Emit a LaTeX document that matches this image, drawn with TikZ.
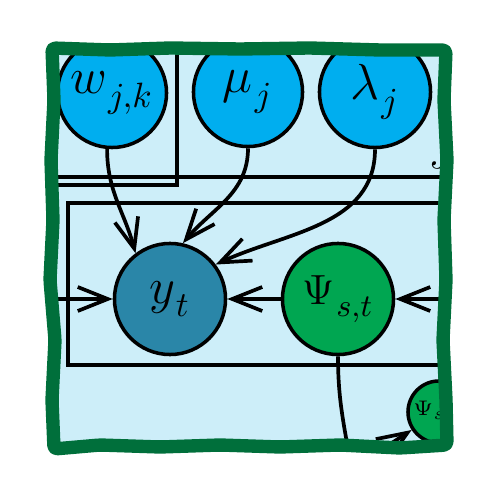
\documentclass[tikz,border=0pt]{standalone}
\usepackage{amsmath}
\usetikzlibrary{arrows.meta}
\definecolor{paneblue}{HTML}{CDEEF9}
\definecolor{hypcyan}{HTML}{00AEEF}
\definecolor{obsteal}{HTML}{2A86A8}
\definecolor{latgreen}{HTML}{00A651}
\definecolor{framegreen}{HTML}{006F3B}
% lowered subscript, as the labels set it
\newcommand{\lsub}[1]{_{\kern.6pt\lower1.6pt\hbox{$\scriptstyle #1$}}}
% hand-drawn outline of the pane, in pixel-like units
\newcommand{\framepath}{(52,452) -- (110,450) -- (170,452) -- (240,451) -- (310,452) -- (380,450) -- (446,450)
  -- (444,400) -- (447,340) -- (444,280) -- (446,220) -- (443,160) -- (446,100) -- (447,55)
  -- (400,52) -- (340,55) -- (280,53) -- (220,55) -- (160,53) -- (100,55) -- (54,51)
  -- (52,100) -- (55,160) -- (50,220) -- (53,280) -- (51,340) -- (54,400) -- cycle}

\begin{document}
\begin{tikzpicture}[x=0.01cm, y=0.01cm, >={Straight Barb[length=3mm, width=2.4mm]},
  var/.style={circle, draw=black, line width=1pt, inner sep=0pt, minimum size=10.9mm,
              font=\fontsize{14}{16}\selectfont},
  hyp/.style={var, fill=hypcyan},
  obs/.style={var, fill=obsteal},
  lat/.style={var, fill=latgreen},
  plate/.style={draw=black, line width=1pt},
  e/.style={->, draw=black, line width=1.05pt}]
\useasboundingbox (0,0) rectangle (500,500);
\fill[paneblue, rounded corners=1pt] \framepath;
\begin{scope}
\clip[rounded corners=1pt] \framepath;
% Plates.
\draw[plate] (30,323) -- (470,323);
\draw[plate] (30,315) -- (177,315) -- (177,470);
\draw[plate] (470,297) -- (68,297) -- (68,135) -- (470,135);
\node[anchor=base west, inner sep=0pt, font=\fontsize{12}{14}\selectfont] (jlab) at (428,331) {$J$};
% Hyperparameters.
\node[hyp] (w) at (112,407) {$w\lsub{j,k}$};
\node[hyp] (mu) at (248,408) {$\mu\lsub{j}$};
\node[hyp, minimum size=11.1mm] (lambda) at (375,408) {$\lambda\lsub{j}$};
% Observation and latent states.
\node[obs, minimum size=11.1mm] (yt) at (170,201) {$y\lsub{t}$};
\node[lat, minimum size=11.1mm, font=\fontsize{12.5}{14}\selectfont] (psi) at (338,201) {$\Psi\lsub{s,t}$};
\node[lat, minimum size=6.2mm, font=\fontsize{6.5}{7}\selectfont] (psis) at (439,88) {$\Psi_{s,t}$};
\coordinate (lin) at (40,201);
\coordinate (rin) at (470,201);
\coordinate (psiout) at (350,40);
\coordinate (sin) at (372,44);
% Dependencies.
\draw[e] (w.265) to[out=-90, in=105] (yt.127);
\draw[e] (mu.south) to[out=-90, in=50] (yt.77);
\draw[e] (lambda.south) to[out=-90, in=25] (yt.37);
\draw[e] (lin) -- (yt);
\draw[e] (psi) -- (yt);
\draw[e] (rin) -- (psi);
\draw[black, line width=1.05pt] (psi.south) to[out=-90, in=100] (psiout);
\draw[e] (sin) -- (psis);
\end{scope}
\draw[framegreen, line width=3.8pt, line cap=round, line join=round, rounded corners=1pt] \framepath;
\end{tikzpicture}
\end{document}
